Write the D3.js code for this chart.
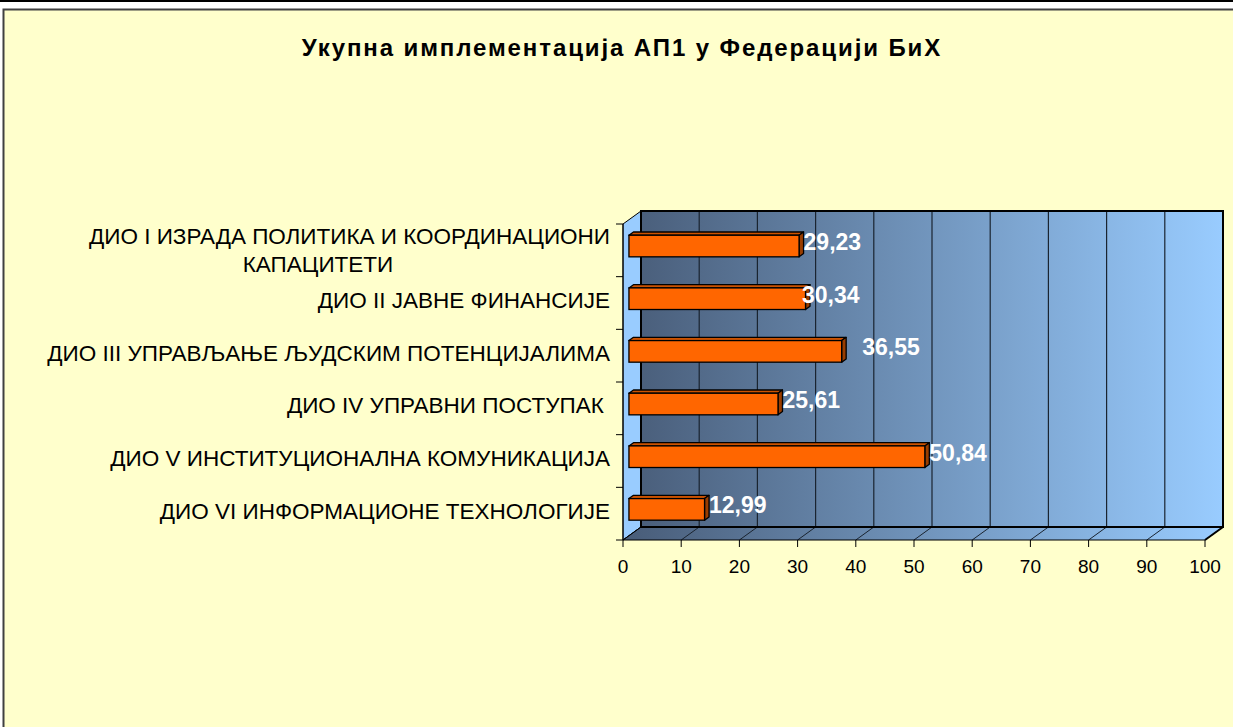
<!DOCTYPE html>
<html>
<head>
<meta charset="utf-8">
<script src="https://cdn.jsdelivr.net/npm/d3@7"></script>
<style>
  html, body { margin: 0; padding: 0; background: #ffffff; }
  svg { display: block; }
  text { font-family: "Liberation Sans", Arial, sans-serif; white-space: pre; }
</style>
</head>
<body>
<svg id="chart" width="1233" height="727"></svg>
<script>
// ---- data ----
const title = "Укупна имплементација АП1 у Федерацији БиХ";
const categories = [
  "ДИО I ИЗРАДА ПОЛИТИКА И КООРДИНАЦИОНИ|КАПАЦИТЕТИ",
  "ДИО II ЈАВНЕ ФИНАНСИЈЕ",
  "ДИО III УПРАВЉАЊЕ ЉУДСКИМ ПОТЕНЦИЈАЛИМА",
  "ДИО IV УПРАВНИ ПОСТУПАК ",
  "ДИО V ИНСТИТУЦИОНАЛНА КОМУНИКАЦИЈА",
  "ДИО VI ИНФОРМАЦИОНЕ ТЕХНОЛОГИЈЕ"
];
const values = [29.23, 30.34, 36.55, 25.61, 50.84, 12.99];
const valueLabels = ["29,23", "30,34", "36,55", "25,61", "50,84", "12,99"];
const xTicks = [0, 10, 20, 30, 40, 50, 60, 70, 80, 90, 100];

// ---- layout ----
const svg = d3.select("#chart");
const W = 1233, H = 727;
const depthX = 18, depthY = -13;          // 3D depth offset (front -> back)
const x = d3.scaleLinear().domain([0, 100]).range([623, 1205]);
const y = d3.scaleBand().domain(categories).range([224, 540]).paddingInner(0).paddingOuter(0);
const labelNudge = [0, -8, 16, 0, 0, 0];

// outer frame
svg.append("rect").attr("x", 0).attr("y", 0).attr("width", W).attr("height", H).attr("fill", "#ffffff");
svg.append("line").attr("x1", 0).attr("x2", W).attr("y1", 1).attr("y2", 1).attr("stroke", "#000").attr("stroke-width", 2);
svg.append("rect").attr("x", 3.5).attr("y", 9.5).attr("width", W + 10).attr("height", H + 10)
  .attr("fill", "#ffffcc").attr("stroke", "#404040").attr("stroke-width", 2);

// title
svg.append("text").attr("x", 622).attr("y", 56).attr("text-anchor", "middle")
  .attr("font-size", 24).attr("font-weight", "bold").attr("letter-spacing", 1.9).attr("fill", "#000")
  .text(title);

// gradients
const defs = svg.append("defs");
const g1 = defs.append("linearGradient").attr("id", "wallGrad")
  .attr("gradientUnits", "userSpaceOnUse")
  .attr("x1", x(0)).attr("x2", x(100) + depthX).attr("y1", 0).attr("y2", 0);
g1.append("stop").attr("offset", "0%").attr("stop-color", "#485c78");
g1.append("stop").attr("offset", "100%").attr("stop-color", "#99ccff");

const x0 = x(0), x1 = x(100), yTop = y.range()[0], yBot = y.range()[1];

// side wall
svg.append("path")
  .attr("d", d3.line()([[x0, yTop], [x0 + depthX, yTop + depthY], [x0 + depthX, yBot + depthY], [x0, yBot]]) + "Z")
  .attr("fill", "#99ccff").attr("stroke", "#000").attr("stroke-width", 1);

// back wall
svg.append("rect")
  .attr("x", x0 + depthX).attr("y", yTop + depthY)
  .attr("width", x1 - x0).attr("height", yBot - yTop)
  .attr("fill", "url(#wallGrad)");

// floor
svg.append("path")
  .attr("d", d3.line()([[x0, yBot], [x0 + depthX, yBot + depthY], [x1 + depthX, yBot + depthY], [x1, yBot]]) + "Z")
  .attr("fill", "url(#wallGrad)");

// gridlines on back wall & floor
const gridG = svg.append("g");
xTicks.forEach(t => {
  if (t > 0 && t < 100) {
    gridG.append("line")
      .attr("x1", x(t) + depthX).attr("x2", x(t) + depthX)
      .attr("y1", yTop + depthY).attr("y2", yBot + depthY)
      .attr("stroke", "#1a2430").attr("stroke-width", 1.2);
  }
  gridG.append("line")
    .attr("x1", x(t)).attr("y1", yBot)
    .attr("x2", x(t) + depthX).attr("y2", yBot + depthY)
    .attr("stroke", "#1a2430").attr("stroke-width", 1);
});

// wall outlines
svg.append("rect")
  .attr("x", x0 + depthX).attr("y", yTop + depthY)
  .attr("width", x1 - x0).attr("height", yBot - yTop)
  .attr("fill", "none").attr("stroke", "#000").attr("stroke-width", 2);
svg.append("line").attr("x1", x1).attr("y1", yBot).attr("x2", x1 + depthX).attr("y2", yBot + depthY)
  .attr("stroke", "#000").attr("stroke-width", 2);
svg.append("line").attr("x1", x0).attr("y1", yBot).attr("x2", x1).attr("y2", yBot)
  .attr("stroke", "#000").attr("stroke-width", 1);
svg.append("line").attr("x1", x0).attr("y1", yBot).attr("x2", x0 + depthX).attr("y2", yBot + depthY)
  .attr("stroke", "#000").attr("stroke-width", 1);

// bars
const bf = 0.33, bd = 0.25;   // bar front depth fraction, bar depth fraction
const fdx = depthX * bf, fdy = depthY * bf;
const ddx = depthX * bd, ddy = depthY * bd;
const bandH = y.bandwidth();
const barH = bandH * 0.41;
const barsG = svg.append("g");
categories.forEach((c, i) => {
  const v = values[i];
  const xl = x(0) + fdx, xr = x(v) + fdx;
  const yt = y(c) + (bandH - barH) / 2 + fdy, yb = yt + barH;
  // top face
  barsG.append("path")
    .attr("d", d3.line()([[xl, yt], [xl + ddx, yt + ddy], [xr + ddx, yt + ddy], [xr, yt]]) + "Z")
    .attr("fill", "#cc5200").attr("stroke", "#000").attr("stroke-width", 1.3).attr("stroke-linejoin", "round");
  // right face
  barsG.append("path")
    .attr("d", d3.line()([[xr, yt], [xr + ddx, yt + ddy], [xr + ddx, yb + ddy], [xr, yb]]) + "Z")
    .attr("fill", "#993d00").attr("stroke", "#000").attr("stroke-width", 1.3).attr("stroke-linejoin", "round");
  // front face
  barsG.append("rect")
    .attr("x", xl).attr("y", yt).attr("width", xr - xl).attr("height", barH)
    .attr("fill", "#ff6600").attr("stroke", "#000").attr("stroke-width", 1.3);
  // label
  barsG.append("text")
    .attr("x", xr + ddx + labelNudge[i])
    .attr("y", (yt + yb) / 2 + ddy - 1)
    .attr("dy", "0.36em")
    .attr("font-size", 23).attr("font-weight", "bold").attr("fill", "#ffffff")
    .text(valueLabels[i]);
});

// category axis
const axG = svg.append("g");
axG.append("line").attr("x1", x0).attr("x2", x0).attr("y1", yTop).attr("y2", yBot)
  .attr("stroke", "#000").attr("stroke-width", 1);
d3.range(categories.length + 1).forEach(k => {
  const yy = yTop + k * bandH;
  axG.append("line").attr("x1", x0 - 7).attr("x2", x0).attr("y1", yy).attr("y2", yy)
    .attr("stroke", "#000").attr("stroke-width", 1);
});
const catFont = 22.5;
categories.forEach((c, i) => {
  const parts = c.split("|");
  const cy = y(c) + bandH / 2 - 3;
  if (parts.length === 1) {
    axG.append("text").attr("x", 610).attr("y", cy).attr("dy", "0.36em")
      .attr("text-anchor", "end").attr("font-size", catFont).attr("fill", "#000").text(parts[0]);
  } else {
    axG.append("text").attr("x", 610).attr("y", cy - 11.6).attr("dy", "0.36em")
      .attr("text-anchor", "end").attr("font-size", catFont).attr("fill", "#000").text(parts[0]);
    axG.append("text").attr("x", 318).attr("y", cy + 16.2).attr("dy", "0.36em")
      .attr("text-anchor", "middle").attr("font-size", catFont).attr("fill", "#000").text(parts[1]);
  }
});

// value axis ticks & labels
xTicks.forEach(t => {
  axG.append("line").attr("x1", x(t)).attr("x2", x(t)).attr("y1", yBot).attr("y2", yBot + 7)
    .attr("stroke", "#000").attr("stroke-width", 1);
  axG.append("text").attr("x", x(t)).attr("y", 566).attr("dy", "0.36em")
    .attr("text-anchor", "middle").attr("font-size", 19).attr("fill", "#000").text(t);
});
</script>
</body>
</html>
